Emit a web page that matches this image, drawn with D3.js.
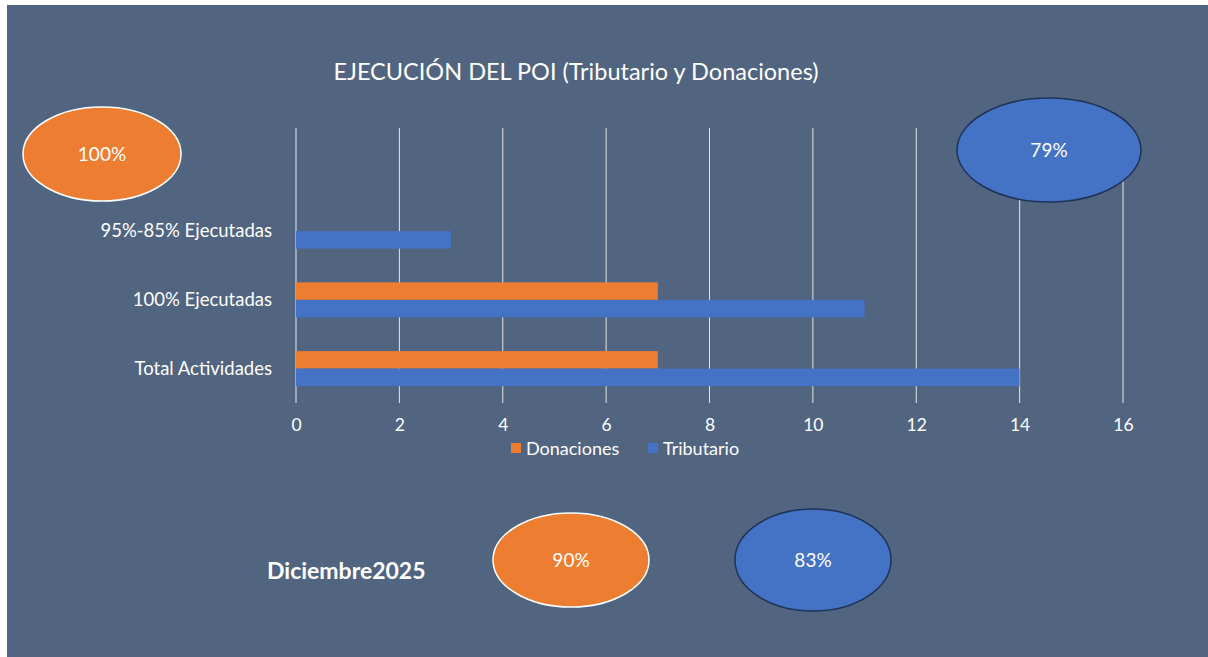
<!DOCTYPE html>
<html>
<head>
<meta charset="utf-8">
<script src="https://cdn.jsdelivr.net/npm/d3@7"></script>
<style>
  body { margin: 0; background: #ffffff; }
  text { font-family: Lato, "Open Sans", sans-serif; fill: #ffffff; }
</style>
</head>
<body>
<div id="chart"></div>
<script>
// categories top to bottom (top one is an empty slot in the original)
let categories = ["", "95%-85% Ejecutadas", "100% Ejecutadas", "Total Actividades"];
let seriesNames = ["Donaciones", "Tributario"];
let donaciones = [0, 0, 7, 7];
let tributario = [0, 3, 11, 14];
let xTicks = [0, 2, 4, 6, 8, 10, 12, 14, 16];

// percentage badges
let badgeTop = ["100%", "79%"];
let badgeBottom = ["90%", "83%"];
let periodLabel = "Diciembre2025";

let colors = { Donaciones: "#ED7D31", Tributario: "#4472C4" };

let W = 1208, H = 657;
let margin = { top: 128, right: 85, bottom: 254, left: 296 };
let width = W - margin.left - margin.right,
    height = H - margin.top - margin.bottom;

let root = d3.select("#chart").append("svg")
    .attr("width", W)
    .attr("height", H);

// panel background
root.append("rect")
    .attr("x", 7).attr("y", 5)
    .attr("width", W - 7).attr("height", H - 5)
    .style("fill", "#516480");

root.append("text")
    .attr("x", 576)
    .attr("y", 80)
    .style("font-size", "23.5px")
    .style("text-anchor", "middle")
    .text("EJECUCIÓN DEL POI (Tributario y Donaciones)");

let svg = root.append("g")
    .attr("transform", "translate(" + margin.left + "," + margin.top + ")");

let x = d3.scaleLinear()
    .domain([0, 16])
    .range([0, width]);

let y = d3.scaleBand()
    .domain(categories)
    .range([0, height])
    .paddingInner(0.49)
    .paddingOuter(0.245);

let ySub = d3.scaleBand()
    .domain(seriesNames)
    .range([0, y.bandwidth()]);

// gridlines
svg.append("g")
    .attr("class", "grid")
    .selectAll("line")
    .data(xTicks)
    .enter().append("line")
    .attr("x1", d => x(d)).attr("x2", d => x(d))
    .attr("y1", 0).attr("y2", height)
    .style("stroke", "#e6e6e6")
    .style("stroke-width", 1);

// x axis labels
let xAxis = d3.axisBottom(x).tickValues(xTicks).tickSize(0).tickPadding(16);
svg.append("g")
    .attr("class", "x-axis axis")
    .attr("transform", "translate(0," + height + ")")
    .call(xAxis)
    .call(g => g.select(".domain").remove())
    .selectAll("text")
    .style("font-size", "17.5px")
    .style("font-family", "Lato, sans-serif")
    .style("fill", "#ffffff");

// y axis labels
let yAxis = d3.axisLeft(y).tickSize(0).tickPadding(24);
svg.append("g")
    .attr("class", "y-axis axis")
    .call(yAxis)
    .call(g => g.select(".domain").remove())
    .selectAll("text")
    .style("font-size", "18.5px")
    .style("font-family", "Lato, sans-serif")
    .style("fill", "#ffffff");

// bars
let rows = categories.map((c, i) => ({ cat: c, Donaciones: donaciones[i], Tributario: tributario[i] }));
let groups = svg.selectAll(".group")
    .data(rows)
    .enter().append("g")
    .attr("class", "group")
    .attr("transform", d => "translate(0," + y(d.cat) + ")");

groups.selectAll("rect")
    .data(d => seriesNames.map(s => ({ key: s, value: d[s] })))
    .enter().append("rect")
    .attr("class", "bar")
    .attr("x", x(0))
    .attr("y", d => ySub(d.key))
    .attr("width", d => x(d.value) - x(0))
    .attr("height", ySub.bandwidth())
    .style("fill", d => colors[d.key]);

// legend
let legend = root.append("g")
    .attr("transform", "translate(511,448)");
let legendX = [0, 137];
seriesNames.forEach((s, i) => {
    legend.append("rect")
        .attr("x", legendX[i]).attr("y", -5)
        .attr("width", 10).attr("height", 10)
        .style("fill", colors[s]);
    legend.append("text")
        .attr("x", legendX[i] + 15)
        .attr("y", 6.5)
        .style("font-size", "18px")
        .text(s);
});

// badges
function badge(cx, cy, rx, ry, fill, stroke, label) {
    root.append("ellipse")
        .attr("cx", cx).attr("cy", cy)
        .attr("rx", rx).attr("ry", ry)
        .style("fill", fill)
        .style("stroke", stroke)
        .style("stroke-width", 1.5);
    root.append("text")
        .attr("x", cx).attr("y", cy + 7)
        .style("font-size", "19px")
        .style("text-anchor", "middle")
        .text(label);
}

badge(102, 154, 79, 47, colors.Donaciones, "#ffffff", badgeTop[0]);
badge(1049, 150, 92, 52, colors.Tributario, "#1f3358", badgeTop[1]);
badge(571, 560, 78, 47, colors.Donaciones, "#ffffff", badgeBottom[0]);
badge(813, 560, 78, 51, colors.Tributario, "#1f3358", badgeBottom[1]);

root.append("text")
    .attr("x", 267)
    .attr("y", 579)
    .style("font-size", "23px")
    .style("font-weight", "bold")
    .text(periodLabel);
</script>
</body>
</html>
